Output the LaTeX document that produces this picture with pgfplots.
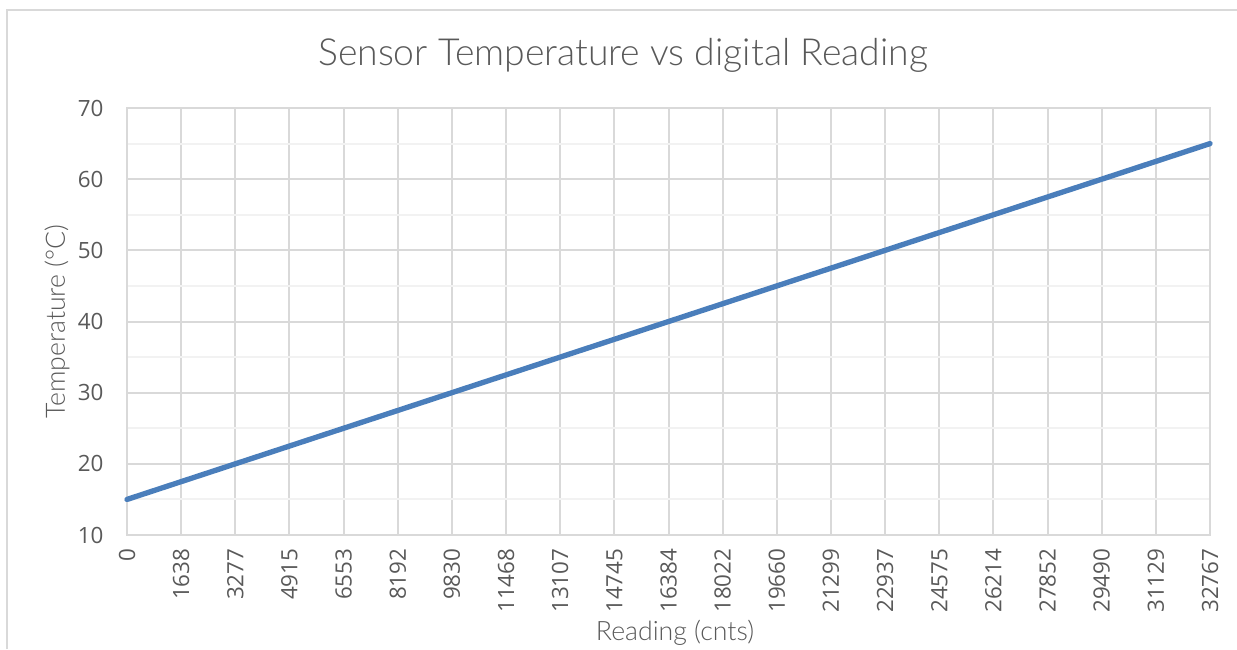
\documentclass[border=0pt]{standalone}
\usepackage{pgfplots}
\pgfplotsset{compat=1.18}
\usepackage{fontspec}
\setmainfont{Open Sans}
\newfontfamily\lightfont{Lato Light}
\definecolor{txt}{HTML}{595959}
\definecolor{majorg}{HTML}{D9D9D9}
\definecolor{minorg}{HTML}{F2F2F2}
\definecolor{serie}{HTML}{4A7EBB}
\begin{document}
\begin{tikzpicture}
\useasboundingbox (-47.625pt,-42.75pt) rectangle (416.25pt,200.625pt);
\draw[majorg, line width=0.75pt] (-45pt,-42.75pt) -- (-45pt,196.875pt) -- (416.25pt,196.875pt);
\begin{axis}[at={(0pt,0pt)}, anchor=south west, scale only axis,
  width=406.125pt, height=160.125pt,
  xmin=0, xmax=20, ymin=10, ymax=70,
  ytick={10,20,...,70}, minor ytick={15,25,...,65},
  xtick={0,...,20},
  xticklabels={0,1638,3277,4915,6553,8192,9830,11468,13107,14745,16384,18022,19660,21299,22937,24575,26214,27852,29490,31129,32767},
  xticklabel style={rotate=90, anchor=east, inner sep=0pt},
  yticklabel style={anchor=east, inner sep=0pt},
  xticklabel shift=4.9pt, yticklabel shift=8.6pt,
  grid=both,
  major grid style={draw=majorg, line width=0.75pt},
  minor grid style={draw=minorg, line width=0.75pt},
  axis line style={draw=majorg, line width=0.75pt},
  major tick length=0pt, minor tick length=0pt,
  tick style={draw=none},
  ticklabel style={font=\fontsize{8.4}{10}\selectfont, text=txt},
  /pgf/number format/assume math mode=true,
  clip=false]
\addplot[serie, line width=2pt, line cap=round] coordinates {
(0,15) (1,17.5) (2,20) (3,22.5) (4,25) (5,27.5) (6,30) (7,32.5) (8,35) (9,37.5) (10,40)
(11,42.5) (12,45) (13,47.5) (14,50) (15,52.5) (16,55) (17,57.5) (18,60) (19,62.5) (20,65)};
\end{axis}
\node[font=\lightfont\fontsize{14}{16}\selectfont, text=txt] at (186pt,180pt) {Sensor Temperature vs digital Reading};
\node[font=\lightfont\fontsize{10}{12}\selectfont, text=txt] at (205.5pt,-36.75pt) {Reading (cnts)};
\node[font=\lightfont\fontsize{10}{12}\selectfont, text=txt, rotate=90] at (-26.25pt,80pt) {Temperature (°C)};
\end{tikzpicture}
\end{document}
